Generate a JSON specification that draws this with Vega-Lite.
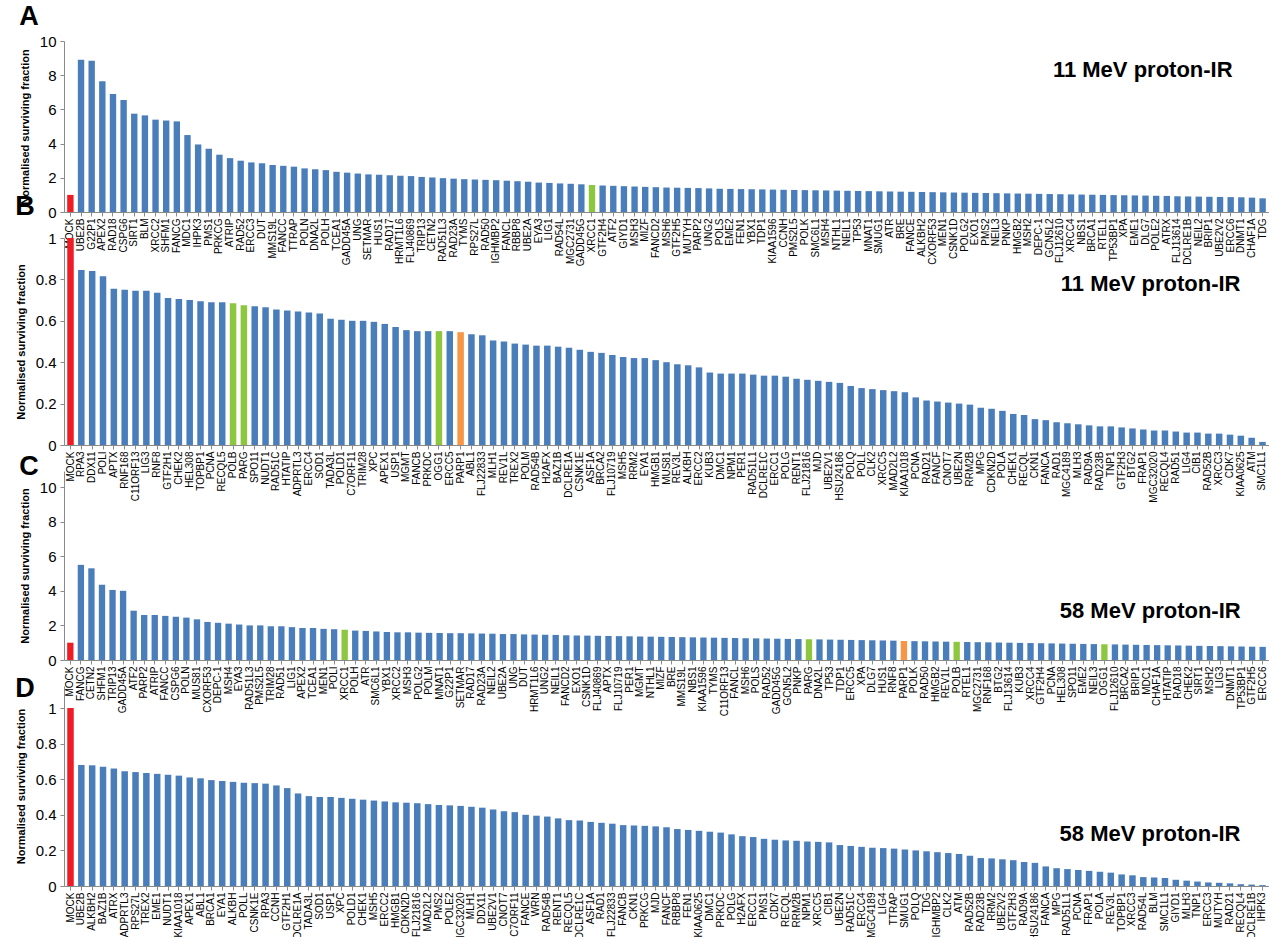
{
"$schema": "https://vega.github.io/schema/vega-lite/v6.json",
"padding": {"left": 15, "top": 3, "right": 0, "bottom": 0},
"background": "white",
"datasets": {
"A": [
{"gene":"MOCK","value":1.0,"group":"mock"},{"gene":"UBE2B","value":8.9,"group":"other"},{"gene":"G22P1","value":8.85,"group":"other"},{"gene":"APEX2","value":7.65,"group":"other"},{"gene":"RAD18","value":6.9,"group":"other"},{"gene":"CSPG6","value":6.55,"group":"other"},{"gene":"SIRT1","value":5.75,"group":"other"},{"gene":"BLM","value":5.65,"group":"other"},{"gene":"XRCC2","value":5.4,"group":"other"},{"gene":"SHFM1","value":5.35,"group":"other"},{"gene":"FANCG","value":5.3,"group":"other"},{"gene":"MDC1","value":4.5,"group":"other"},{"gene":"IHPK3","value":3.95,"group":"other"},{"gene":"PMS1","value":3.7,"group":"other"},{"gene":"PRKCG","value":3.35,"group":"other"},{"gene":"ATRIP","value":3.15,"group":"other"},{"gene":"RAD52","value":3.0,"group":"other"},{"gene":"ERCC3","value":2.9,"group":"other"},{"gene":"DUT","value":2.85,"group":"other"},{"gene":"MMS19L","value":2.75,"group":"other"},{"gene":"FANCC","value":2.7,"group":"other"},{"gene":"TTRAP","value":2.65,"group":"other"},{"gene":"POLN","value":2.55,"group":"other"},{"gene":"DNA2L","value":2.5,"group":"other"},{"gene":"POLH","value":2.45,"group":"other"},{"gene":"TCEA1","value":2.35,"group":"other"},{"gene":"GADD45A","value":2.3,"group":"other"},{"gene":"UNG","value":2.25,"group":"other"},{"gene":"SETMAR","value":2.2,"group":"other"},{"gene":"HUS1","value":2.18,"group":"other"},{"gene":"RAD17","value":2.15,"group":"other"},{"gene":"HRMT1L6","value":2.12,"group":"other"},{"gene":"FLJ40869","value":2.1,"group":"other"},{"gene":"TRIP13","value":2.05,"group":"other"},{"gene":"CETN2","value":2.02,"group":"other"},{"gene":"RAD51L3","value":1.98,"group":"other"},{"gene":"RAD23A","value":1.95,"group":"other"},{"gene":"TYMS","value":1.92,"group":"other"},{"gene":"RPS27L","value":1.9,"group":"other"},{"gene":"RAD50","value":1.88,"group":"other"},{"gene":"IGHMBP2","value":1.86,"group":"other"},{"gene":"FANCL","value":1.83,"group":"other"},{"gene":"RBBP8","value":1.8,"group":"other"},{"gene":"UBE2A","value":1.77,"group":"other"},{"gene":"EYA3","value":1.72,"group":"other"},{"gene":"LIG1","value":1.7,"group":"other"},{"gene":"RAD54L","value":1.67,"group":"other"},{"gene":"MGC2731","value":1.65,"group":"other"},{"gene":"GADD45G","value":1.62,"group":"other"},{"gene":"XRCC1","value":1.58,"group":"BER"},{"gene":"GTF2H4","value":1.55,"group":"other"},{"gene":"ATF2","value":1.53,"group":"other"},{"gene":"GIYD1","value":1.51,"group":"other"},{"gene":"MSH3","value":1.49,"group":"other"},{"gene":"MIZF","value":1.47,"group":"other"},{"gene":"FANCD2","value":1.45,"group":"other"},{"gene":"MSH6","value":1.43,"group":"other"},{"gene":"GTF2H5","value":1.42,"group":"other"},{"gene":"MUTYH","value":1.41,"group":"other"},{"gene":"PARP2","value":1.4,"group":"other"},{"gene":"UNG2","value":1.38,"group":"other"},{"gene":"POLS","value":1.36,"group":"other"},{"gene":"EME2","value":1.35,"group":"other"},{"gene":"FEN1","value":1.34,"group":"other"},{"gene":"YBX1","value":1.33,"group":"other"},{"gene":"TDP1","value":1.32,"group":"other"},{"gene":"KIAA1596","value":1.31,"group":"other"},{"gene":"CCNH","value":1.3,"group":"other"},{"gene":"PMS2L5","value":1.29,"group":"other"},{"gene":"POLK","value":1.28,"group":"other"},{"gene":"SMC6L1","value":1.27,"group":"other"},{"gene":"MSH4","value":1.26,"group":"other"},{"gene":"NTHL1","value":1.25,"group":"other"},{"gene":"NEIL1","value":1.24,"group":"other"},{"gene":"TP53","value":1.23,"group":"other"},{"gene":"MNAT1","value":1.22,"group":"other"},{"gene":"SMUG1","value":1.21,"group":"other"},{"gene":"ATR","value":1.2,"group":"other"},{"gene":"BRE","value":1.19,"group":"other"},{"gene":"FANCE","value":1.18,"group":"other"},{"gene":"ALKBH2","value":1.17,"group":"other"},{"gene":"CXORF53","value":1.16,"group":"other"},{"gene":"MEN1","value":1.15,"group":"other"},{"gene":"CSNK1D","value":1.14,"group":"other"},{"gene":"POLG2","value":1.13,"group":"other"},{"gene":"EXO1","value":1.12,"group":"other"},{"gene":"PMS2","value":1.11,"group":"other"},{"gene":"NEIL3","value":1.1,"group":"other"},{"gene":"PNKP","value":1.09,"group":"other"},{"gene":"HMGB2","value":1.08,"group":"other"},{"gene":"MSH2","value":1.07,"group":"other"},{"gene":"DEPC-1","value":1.06,"group":"other"},{"gene":"GCN5L2","value":1.05,"group":"other"},{"gene":"FLJ12610","value":1.04,"group":"other"},{"gene":"XRCC4","value":1.03,"group":"other"},{"gene":"NBS1","value":1.02,"group":"other"},{"gene":"BRCA1","value":1.01,"group":"other"},{"gene":"RTEL1","value":1.0,"group":"other"},{"gene":"TP53BP1","value":0.99,"group":"other"},{"gene":"XPA","value":0.98,"group":"other"},{"gene":"EME1","value":0.97,"group":"other"},{"gene":"DLG7","value":0.96,"group":"other"},{"gene":"POLE2","value":0.95,"group":"other"},{"gene":"ATRX","value":0.94,"group":"other"},{"gene":"FLJ13614","value":0.92,"group":"other"},{"gene":"DCLRE1B","value":0.91,"group":"other"},{"gene":"NEIL2","value":0.9,"group":"other"},{"gene":"BRIP1","value":0.89,"group":"other"},{"gene":"UBE2V2","value":0.88,"group":"other"},{"gene":"ERCC6","value":0.87,"group":"other"},{"gene":"DNMT1","value":0.86,"group":"other"},{"gene":"CHAF1A","value":0.84,"group":"other"},{"gene":"TDG","value":0.8,"group":"other"}
],
"B": [
{"gene":"MOCK","value":1.0,"group":"mock"},{"gene":"RPA3","value":0.845,"group":"other"},{"gene":"DDX11","value":0.84,"group":"other"},{"gene":"POLI","value":0.815,"group":"other"},{"gene":"APTX","value":0.755,"group":"other"},{"gene":"RNF168","value":0.75,"group":"other"},{"gene":"C11ORF13","value":0.745,"group":"other"},{"gene":"LIG3","value":0.745,"group":"other"},{"gene":"RNF8","value":0.735,"group":"other"},{"gene":"GTF2H1","value":0.71,"group":"other"},{"gene":"CHEK2","value":0.705,"group":"other"},{"gene":"HEL308","value":0.7,"group":"other"},{"gene":"TOPBP1","value":0.695,"group":"other"},{"gene":"PCNA","value":0.69,"group":"other"},{"gene":"RECQL5","value":0.69,"group":"other"},{"gene":"POLB","value":0.685,"group":"BER"},{"gene":"PARG","value":0.675,"group":"BER"},{"gene":"SPO11","value":0.67,"group":"other"},{"gene":"NUDT1","value":0.665,"group":"other"},{"gene":"RAD51C","value":0.655,"group":"other"},{"gene":"HTATIP","value":0.65,"group":"other"},{"gene":"ADPRTL3","value":0.645,"group":"other"},{"gene":"ERCC4","value":0.64,"group":"other"},{"gene":"SOD1","value":0.635,"group":"other"},{"gene":"TADA3L","value":0.61,"group":"other"},{"gene":"POLD1","value":0.605,"group":"other"},{"gene":"C7ORF11","value":0.6,"group":"other"},{"gene":"TRIM28","value":0.6,"group":"other"},{"gene":"XPC","value":0.595,"group":"other"},{"gene":"APEX1","value":0.585,"group":"other"},{"gene":"USP1","value":0.57,"group":"other"},{"gene":"MGMT","value":0.555,"group":"other"},{"gene":"FANCB","value":0.55,"group":"other"},{"gene":"PRKDC","value":0.55,"group":"other"},{"gene":"OGG1","value":0.55,"group":"BER"},{"gene":"ERCC5","value":0.55,"group":"other"},{"gene":"PARP1","value":0.545,"group":"PARP"},{"gene":"ABL1","value":0.535,"group":"other"},{"gene":"FLJ22833","value":0.53,"group":"other"},{"gene":"MLH1","value":0.505,"group":"other"},{"gene":"REV1L","value":0.5,"group":"other"},{"gene":"TREX2","value":0.49,"group":"other"},{"gene":"POLM","value":0.485,"group":"other"},{"gene":"RAD54B","value":0.48,"group":"other"},{"gene":"H2AFX","value":0.48,"group":"other"},{"gene":"BAZ1B","value":0.475,"group":"other"},{"gene":"DCLRE1A","value":0.47,"group":"other"},{"gene":"CSNK1E","value":0.46,"group":"other"},{"gene":"ASF1A","value":0.45,"group":"other"},{"gene":"BRCA2","value":0.445,"group":"other"},{"gene":"FLJ10719","value":0.435,"group":"other"},{"gene":"MSH5","value":0.425,"group":"other"},{"gene":"RRM2","value":0.42,"group":"other"},{"gene":"EYA1","value":0.42,"group":"other"},{"gene":"HMGB1","value":0.41,"group":"other"},{"gene":"MUS81","value":0.4,"group":"other"},{"gene":"REV3L","value":0.39,"group":"other"},{"gene":"ALKBH","value":0.385,"group":"other"},{"gene":"ERCC2","value":0.375,"group":"other"},{"gene":"KUB3","value":0.35,"group":"other"},{"gene":"DMC1","value":0.345,"group":"other"},{"gene":"NPM1","value":0.345,"group":"other"},{"gene":"PER1","value":0.345,"group":"other"},{"gene":"RAD51L1","value":0.34,"group":"other"},{"gene":"DCLRE1C","value":0.335,"group":"other"},{"gene":"ERCC1","value":0.335,"group":"other"},{"gene":"POLG","value":0.33,"group":"other"},{"gene":"RENT1","value":0.32,"group":"other"},{"gene":"FLJ21816","value":0.315,"group":"other"},{"gene":"MJD","value":0.31,"group":"other"},{"gene":"UBE2V1","value":0.305,"group":"other"},{"gene":"HSU24186","value":0.3,"group":"other"},{"gene":"POLQ","value":0.285,"group":"other"},{"gene":"POLL","value":0.275,"group":"other"},{"gene":"CLK2","value":0.27,"group":"other"},{"gene":"XRCC5","value":0.265,"group":"other"},{"gene":"MAD2L2","value":0.26,"group":"other"},{"gene":"KIAA1018","value":0.255,"group":"other"},{"gene":"PCNA ","value":0.23,"group":"other"},{"gene":"RAD21","value":0.215,"group":"other"},{"gene":"FANCF","value":0.21,"group":"other"},{"gene":"CNOT7","value":0.205,"group":"other"},{"gene":"UBE2N","value":0.2,"group":"other"},{"gene":"RRM2B","value":0.195,"group":"other"},{"gene":"MPG","value":0.18,"group":"other"},{"gene":"CDKN2D","value":0.175,"group":"other"},{"gene":"POLA","value":0.165,"group":"other"},{"gene":"CHEK1","value":0.15,"group":"other"},{"gene":"RECQL","value":0.145,"group":"other"},{"gene":"CKN1","value":0.125,"group":"other"},{"gene":"FANCA","value":0.12,"group":"other"},{"gene":"RAD1","value":0.11,"group":"other"},{"gene":"MGC4189","value":0.105,"group":"other"},{"gene":"MLH3","value":0.1,"group":"other"},{"gene":"RAD9A","value":0.095,"group":"other"},{"gene":"RAD23B","value":0.09,"group":"other"},{"gene":"TNP1","value":0.09,"group":"other"},{"gene":"GTF2H3","value":0.085,"group":"other"},{"gene":"BTG2","value":0.08,"group":"other"},{"gene":"FRAP1","value":0.075,"group":"other"},{"gene":"MGC32020","value":0.07,"group":"other"},{"gene":"RECQL4","value":0.07,"group":"other"},{"gene":"RAD51","value":0.065,"group":"other"},{"gene":"LIG4","value":0.06,"group":"other"},{"gene":"CIB1","value":0.06,"group":"other"},{"gene":"RAD52B","value":0.055,"group":"other"},{"gene":"XRCC3","value":0.055,"group":"other"},{"gene":"CDK7","value":0.05,"group":"other"},{"gene":"KIAA0625","value":0.045,"group":"other"},{"gene":"ATM","value":0.035,"group":"other"},{"gene":"SMC1L1","value":0.015,"group":"other"}
],
"C": [
{"gene":"MOCK","value":1.0,"group":"mock"},{"gene":"FANCG","value":5.5,"group":"other"},{"gene":"CETN2","value":5.3,"group":"other"},{"gene":"SHFM1","value":4.35,"group":"other"},{"gene":"TRIP13","value":4.05,"group":"other"},{"gene":"GADD45A","value":4.0,"group":"other"},{"gene":"ATF2","value":2.85,"group":"other"},{"gene":"PARP2","value":2.6,"group":"other"},{"gene":"ATRIP","value":2.6,"group":"other"},{"gene":"FANCC","value":2.55,"group":"other"},{"gene":"CSPG6","value":2.5,"group":"other"},{"gene":"POLN","value":2.45,"group":"other"},{"gene":"MUS81","value":2.35,"group":"other"},{"gene":"CXORF53","value":2.2,"group":"other"},{"gene":"DEPC-1","value":2.15,"group":"other"},{"gene":"MSH4","value":2.1,"group":"other"},{"gene":"EYA3","value":2.05,"group":"other"},{"gene":"RAD51L3","value":2.0,"group":"other"},{"gene":"PMS2L5","value":2.0,"group":"other"},{"gene":"TRIM28","value":1.95,"group":"other"},{"gene":"RAD51","value":1.95,"group":"other"},{"gene":"LIG1","value":1.9,"group":"other"},{"gene":"APEX2","value":1.85,"group":"other"},{"gene":"TCEA1","value":1.85,"group":"other"},{"gene":"MEN1","value":1.8,"group":"other"},{"gene":"POLI","value":1.78,"group":"other"},{"gene":"XRCC1","value":1.75,"group":"BER"},{"gene":"POLH","value":1.7,"group":"other"},{"gene":"ATR","value":1.68,"group":"other"},{"gene":"SMC6L1","value":1.65,"group":"other"},{"gene":"YBX1","value":1.62,"group":"other"},{"gene":"XRCC2","value":1.6,"group":"other"},{"gene":"MSH3","value":1.6,"group":"other"},{"gene":"POLG2","value":1.58,"group":"other"},{"gene":"POLM","value":1.57,"group":"other"},{"gene":"MNAT1","value":1.56,"group":"other"},{"gene":"G22P1","value":1.55,"group":"other"},{"gene":"SETMAR","value":1.55,"group":"other"},{"gene":"RAD17","value":1.54,"group":"other"},{"gene":"RAD23A","value":1.53,"group":"other"},{"gene":"NEIL2","value":1.52,"group":"other"},{"gene":"UBE2A","value":1.5,"group":"other"},{"gene":"UNG","value":1.5,"group":"other"},{"gene":"DUT","value":1.48,"group":"other"},{"gene":"HRMT1L6","value":1.47,"group":"other"},{"gene":"UNG2","value":1.46,"group":"other"},{"gene":"NEIL1","value":1.45,"group":"other"},{"gene":"FANCD2","value":1.43,"group":"other"},{"gene":"EXO1","value":1.42,"group":"other"},{"gene":"CSNK1D","value":1.41,"group":"other"},{"gene":"FLJ40869","value":1.4,"group":"other"},{"gene":"APTX","value":1.39,"group":"other"},{"gene":"FLJ10719","value":1.38,"group":"other"},{"gene":"PER1","value":1.37,"group":"other"},{"gene":"MGMT","value":1.36,"group":"other"},{"gene":"NTHL1","value":1.35,"group":"other"},{"gene":"MIZF","value":1.34,"group":"other"},{"gene":"BRE","value":1.33,"group":"other"},{"gene":"MMS19L","value":1.32,"group":"other"},{"gene":"NBS1","value":1.31,"group":"other"},{"gene":"KIAA1596","value":1.3,"group":"other"},{"gene":"TYMS","value":1.29,"group":"other"},{"gene":"C11ORF13","value":1.28,"group":"other"},{"gene":"FANCL","value":1.27,"group":"other"},{"gene":"MSH6","value":1.26,"group":"other"},{"gene":"POLS","value":1.25,"group":"other"},{"gene":"RAD52","value":1.24,"group":"other"},{"gene":"GADD45G","value":1.23,"group":"other"},{"gene":"GCN5L2","value":1.22,"group":"other"},{"gene":"PNKP","value":1.21,"group":"other"},{"gene":"PARG","value":1.2,"group":"BER"},{"gene":"DNA2L","value":1.19,"group":"other"},{"gene":"TP53","value":1.18,"group":"other"},{"gene":"TDP1","value":1.17,"group":"other"},{"gene":"ERCC5","value":1.16,"group":"other"},{"gene":"XPA","value":1.15,"group":"other"},{"gene":"DLG7","value":1.14,"group":"other"},{"gene":"HUS1","value":1.13,"group":"other"},{"gene":"RNF8","value":1.12,"group":"other"},{"gene":"PARP1","value":1.1,"group":"PARP"},{"gene":"POLK","value":1.09,"group":"other"},{"gene":"RAD50","value":1.08,"group":"other"},{"gene":"HMGB2","value":1.07,"group":"other"},{"gene":"REV1L","value":1.06,"group":"other"},{"gene":"POLB","value":1.05,"group":"BER"},{"gene":"RTEL1","value":1.04,"group":"other"},{"gene":"MGC2731","value":1.03,"group":"other"},{"gene":"RNF168","value":1.02,"group":"other"},{"gene":"BTG2","value":1.01,"group":"other"},{"gene":"FLJ13614","value":1.0,"group":"other"},{"gene":"KUB3","value":0.99,"group":"other"},{"gene":"XRCC4","value":0.98,"group":"other"},{"gene":"GTF2H4","value":0.97,"group":"other"},{"gene":"PCNA","value":0.96,"group":"other"},{"gene":"HEL308","value":0.95,"group":"other"},{"gene":"SPO11","value":0.94,"group":"other"},{"gene":"EME2","value":0.93,"group":"other"},{"gene":"NEIL3","value":0.92,"group":"other"},{"gene":"OGG1","value":0.91,"group":"BER"},{"gene":"FLJ12610","value":0.9,"group":"other"},{"gene":"BRCA2","value":0.89,"group":"other"},{"gene":"BRIP1","value":0.88,"group":"other"},{"gene":"MDC1","value":0.87,"group":"other"},{"gene":"CHAF1A","value":0.86,"group":"other"},{"gene":"HTATIP","value":0.85,"group":"other"},{"gene":"RAD18","value":0.84,"group":"other"},{"gene":"CHEK2","value":0.83,"group":"other"},{"gene":"SIRT1","value":0.82,"group":"other"},{"gene":"MSH2","value":0.81,"group":"other"},{"gene":"LIG3","value":0.8,"group":"other"},{"gene":"DNMT1","value":0.79,"group":"other"},{"gene":"TP53BP1","value":0.78,"group":"other"},{"gene":"GTF2H5","value":0.77,"group":"other"},{"gene":"ERCC6","value":0.76,"group":"other"}
],
"D": [
{"gene":"MOCK","value":1.0,"group":"mock"},{"gene":"UBE2B","value":0.68,"group":"other"},{"gene":"ALKBH2","value":0.678,"group":"other"},{"gene":"BAZ1B","value":0.67,"group":"other"},{"gene":"ATRX","value":0.66,"group":"other"},{"gene":"ADPRTL3","value":0.645,"group":"other"},{"gene":"RPS27L","value":0.64,"group":"other"},{"gene":"TREX2","value":0.635,"group":"other"},{"gene":"EME1","value":0.63,"group":"other"},{"gene":"NUDT1","value":0.625,"group":"other"},{"gene":"KIAA1018","value":0.62,"group":"other"},{"gene":"APEX1","value":0.61,"group":"other"},{"gene":"ABL1","value":0.605,"group":"other"},{"gene":"BRCA1","value":0.595,"group":"other"},{"gene":"EYA1","value":0.59,"group":"other"},{"gene":"ALKBH","value":0.585,"group":"other"},{"gene":"POLL","value":0.58,"group":"other"},{"gene":"CSNK1E","value":0.578,"group":"other"},{"gene":"RPA3","value":0.575,"group":"other"},{"gene":"CCNH","value":0.565,"group":"other"},{"gene":"GTF2H1","value":0.55,"group":"other"},{"gene":"DCLRE1A","value":0.52,"group":"other"},{"gene":"TADA3L","value":0.505,"group":"other"},{"gene":"SOD1","value":0.5,"group":"other"},{"gene":"USP1","value":0.5,"group":"other"},{"gene":"XPC","value":0.495,"group":"other"},{"gene":"POLD1","value":0.49,"group":"other"},{"gene":"CHEK1","value":0.485,"group":"other"},{"gene":"MSH5","value":0.48,"group":"other"},{"gene":"ERCC2","value":0.475,"group":"other"},{"gene":"HMGB1","value":0.47,"group":"other"},{"gene":"CDKN2D","value":0.468,"group":"other"},{"gene":"FLJ21816","value":0.465,"group":"other"},{"gene":"MAD2L2","value":0.46,"group":"other"},{"gene":"PMS2","value":0.455,"group":"other"},{"gene":"POLE2","value":0.453,"group":"other"},{"gene":"MGC32020","value":0.45,"group":"other"},{"gene":"MLH1","value":0.445,"group":"other"},{"gene":"DDX11","value":0.44,"group":"other"},{"gene":"UBE2V1","value":0.43,"group":"other"},{"gene":"CNOT7","value":0.42,"group":"other"},{"gene":"C7ORF11","value":0.415,"group":"other"},{"gene":"FANCE","value":0.4,"group":"other"},{"gene":"WRN","value":0.395,"group":"other"},{"gene":"RAD54B","value":0.39,"group":"other"},{"gene":"RENT1","value":0.38,"group":"other"},{"gene":"RECQL5","value":0.37,"group":"other"},{"gene":"DCLRE1C","value":0.368,"group":"other"},{"gene":"ASF1A","value":0.36,"group":"other"},{"gene":"RAD1","value":0.355,"group":"other"},{"gene":"FLJ22833","value":0.35,"group":"other"},{"gene":"FANCB","value":0.342,"group":"other"},{"gene":"CKN1","value":0.34,"group":"other"},{"gene":"PRKCG","value":0.338,"group":"other"},{"gene":"MJD","value":0.335,"group":"other"},{"gene":"FANCF","value":0.33,"group":"other"},{"gene":"RBBP8","value":0.32,"group":"other"},{"gene":"FEN1","value":0.315,"group":"other"},{"gene":"KIAA0625","value":0.31,"group":"other"},{"gene":"DMC1","value":0.305,"group":"other"},{"gene":"PRKDC","value":0.3,"group":"other"},{"gene":"POLG","value":0.29,"group":"other"},{"gene":"H2AFX","value":0.28,"group":"other"},{"gene":"ERCC1","value":0.275,"group":"other"},{"gene":"PMS1","value":0.265,"group":"other"},{"gene":"CDK7","value":0.26,"group":"other"},{"gene":"RECQL","value":0.256,"group":"other"},{"gene":"RRM2B","value":0.254,"group":"other"},{"gene":"NPM1","value":0.25,"group":"other"},{"gene":"XRCC5","value":0.248,"group":"other"},{"gene":"CIB1","value":0.245,"group":"other"},{"gene":"UBE2N","value":0.23,"group":"other"},{"gene":"RAD51C","value":0.225,"group":"other"},{"gene":"ERCC4","value":0.22,"group":"other"},{"gene":"MGC4189","value":0.215,"group":"other"},{"gene":"LIG4","value":0.213,"group":"other"},{"gene":"TTRAP","value":0.21,"group":"other"},{"gene":"SMUG1","value":0.205,"group":"other"},{"gene":"POLQ","value":0.2,"group":"other"},{"gene":"TDG","value":0.195,"group":"other"},{"gene":"IGHMBP2","value":0.19,"group":"other"},{"gene":"CLK2","value":0.185,"group":"other"},{"gene":"ATM","value":0.18,"group":"other"},{"gene":"RAD52B","value":0.17,"group":"other"},{"gene":"RAD23B","value":0.157,"group":"other"},{"gene":"RRM2","value":0.155,"group":"other"},{"gene":"UBE2V2","value":0.15,"group":"other"},{"gene":"GTF2H3","value":0.145,"group":"other"},{"gene":"RAD9A","value":0.135,"group":"other"},{"gene":"HSU24186","value":0.13,"group":"other"},{"gene":"FANCA","value":0.11,"group":"other"},{"gene":"MPG","value":0.1,"group":"other"},{"gene":"RAD51L1","value":0.095,"group":"other"},{"gene":"PCNA","value":0.09,"group":"other"},{"gene":"FRAP1","value":0.085,"group":"other"},{"gene":"POLA","value":0.08,"group":"other"},{"gene":"REV3L","value":0.075,"group":"other"},{"gene":"TOPBP1","value":0.065,"group":"other"},{"gene":"XRCC3","value":0.06,"group":"other"},{"gene":"RAD54L","value":0.05,"group":"other"},{"gene":"BLM","value":0.048,"group":"other"},{"gene":"SMC1L1","value":0.045,"group":"other"},{"gene":"GIYD1","value":0.035,"group":"other"},{"gene":"MLH3","value":0.03,"group":"other"},{"gene":"TNP1","value":0.025,"group":"other"},{"gene":"ERCC3","value":0.02,"group":"other"},{"gene":"MUTYH","value":0.018,"group":"other"},{"gene":"RAD21","value":0.015,"group":"other"},{"gene":"RECQL4","value":0.01,"group":"other"},{"gene":"DCLRE1B","value":0.008,"group":"other"},{"gene":"IHPK3","value":0.005,"group":"other"}
]
},
"vconcat": [
{"title": {"text": "A", "offset": 3}, "width": 1205, "height": 171, "data": {"name": "A"},
 "encoding": {"x": {"field": "gene", "type": "nominal", "sort": null, "scale": {"paddingInner": 0.4, "paddingOuter": 0.3}}},
 "layer": [
  {"mark": {"type": "bar"}, "encoding": {"y": {"field": "value", "type": "quantitative", "scale": {"domain": [0, 10], "nice": false}, "axis": {"values": [0, 2, 4, 6, 8, 10], "tickCount": 12, "labelOverlap": false, "title": "Normalised surviving fraction"}}, "color": {"field": "group", "type": "nominal", "scale": {"domain": ["mock", "other", "BER", "PARP"], "range": ["#EE1C25", "#4A7EBB", "#8DC63F", "#F79646"]}, "legend": null}}},
  {"mark": {"type": "text", "align": "right", "baseline": "middle", "fontSize": 22, "fontWeight": "bold", "dx": -30}, "encoding": {"y": {"datum": 8.3, "type": "quantitative"}, "text": {"condition": {"test": "datum.gene === 'TDG'", "value": "11 MeV proton-IR"}, "value": ""}}}
 ]},
{"title": {"text": "B", "offset": 10}, "width": 1205, "height": 207, "data": {"name": "B"},
 "encoding": {"x": {"field": "gene", "type": "nominal", "sort": null, "scale": {"paddingInner": 0.4, "paddingOuter": 0.3}}},
 "layer": [
  {"mark": {"type": "bar"}, "encoding": {"y": {"field": "value", "type": "quantitative", "scale": {"domain": [0, 1], "nice": false}, "axis": {"values": [0, 0.2, 0.4, 0.6, 0.8, 1], "tickCount": 12, "labelOverlap": false, "format": ".1~f", "title": "Normalised surviving fraction"}}, "color": {"field": "group", "type": "nominal", "scale": {"domain": ["mock", "other", "BER", "PARP"], "range": ["#EE1C25", "#4A7EBB", "#8DC63F", "#F79646"]}, "legend": null}}},
  {"mark": {"type": "text", "align": "right", "baseline": "middle", "fontSize": 22, "fontWeight": "bold", "dx": -22}, "encoding": {"y": {"datum": 0.78, "type": "quantitative"}, "text": {"condition": {"test": "datum.gene === 'SMC1L1'", "value": "11 MeV proton-IR"}, "value": ""}}}
 ]},
{"title": {"text": "C", "offset": -10}, "width": 1205, "height": 189, "data": {"name": "C"},
 "encoding": {"x": {"field": "gene", "type": "nominal", "sort": null, "scale": {"paddingInner": 0.4, "paddingOuter": 0.3}}},
 "layer": [
  {"mark": {"type": "bar"}, "encoding": {"y": {"field": "value", "type": "quantitative", "scale": {"domain": [0, 10.925], "nice": false}, "axis": {"values": [0, 2, 4, 6, 8, 10], "tickCount": 12, "labelOverlap": false, "title": "Normalised surviving fraction"}}, "color": {"field": "group", "type": "nominal", "scale": {"domain": ["mock", "other", "BER", "PARP"], "range": ["#EE1C25", "#4A7EBB", "#8DC63F", "#F79646"]}, "legend": null}}},
  {"mark": {"type": "text", "align": "right", "baseline": "middle", "fontSize": 22, "fontWeight": "bold", "dx": -22}, "encoding": {"y": {"datum": 2.85, "type": "quantitative"}, "text": {"condition": {"test": "datum.gene === 'ERCC6'", "value": "58 MeV proton-IR"}, "value": ""}}}
 ]},
{"title": {"text": "D", "offset": -17}, "width": 1205, "height": 200, "data": {"name": "D"},
 "encoding": {"x": {"field": "gene", "type": "nominal", "sort": null, "scale": {"paddingInner": 0.4, "paddingOuter": 0.3}}},
 "layer": [
  {"mark": {"type": "bar"}, "encoding": {"y": {"field": "value", "type": "quantitative", "scale": {"domain": [0, 1.1236], "nice": false}, "axis": {"values": [0, 0.2, 0.4, 0.6, 0.8, 1], "tickCount": 12, "labelOverlap": false, "format": ".1~f", "title": "Normalised surviving fraction"}}, "color": {"field": "group", "type": "nominal", "scale": {"domain": ["mock", "other", "BER", "PARP"], "range": ["#EE1C25", "#4A7EBB", "#8DC63F", "#F79646"]}, "legend": null}}},
  {"mark": {"type": "text", "align": "right", "baseline": "middle", "fontSize": 22, "fontWeight": "bold", "dx": -22}, "encoding": {"y": {"datum": 0.29, "type": "quantitative"}, "text": {"condition": {"test": "datum.gene === 'IHPK3'", "value": "58 MeV proton-IR"}, "value": ""}}}
 ]}
],
"spacing": 26,
"bounds": "flush",
"resolve": {"scale": {"x": "independent", "y": "independent", "color": "shared"}},
"config": {
 "font": "Liberation Sans",
 "view": {"stroke": null},
 "title": {"anchor": "start", "frame": "bounds", "fontSize": 27, "fontWeight": "bold", "font": "Liberation Sans", "color": "#000"},
 "axis": {"grid": false, "domainColor": "#8a8a8a", "tickColor": "#8a8a8a", "labelColor": "#000", "titleColor": "#000", "labelFont": "Liberation Sans", "titleFont": "Liberation Sans"},
 "axisX": {"labelAngle": -90, "labelFontSize": 10, "labelPadding": 2, "tickSize": 4, "title": null, "labelOverlap": false, "labelBound": false, "labelLimit": 100},
 "axisY": {"labelFontSize": 15, "titleFontSize": 11, "titleFontWeight": "bold", "tickSize": 4, "titlePadding": 9, "labelPadding": 4, "labelOverlap": false}
}
}
